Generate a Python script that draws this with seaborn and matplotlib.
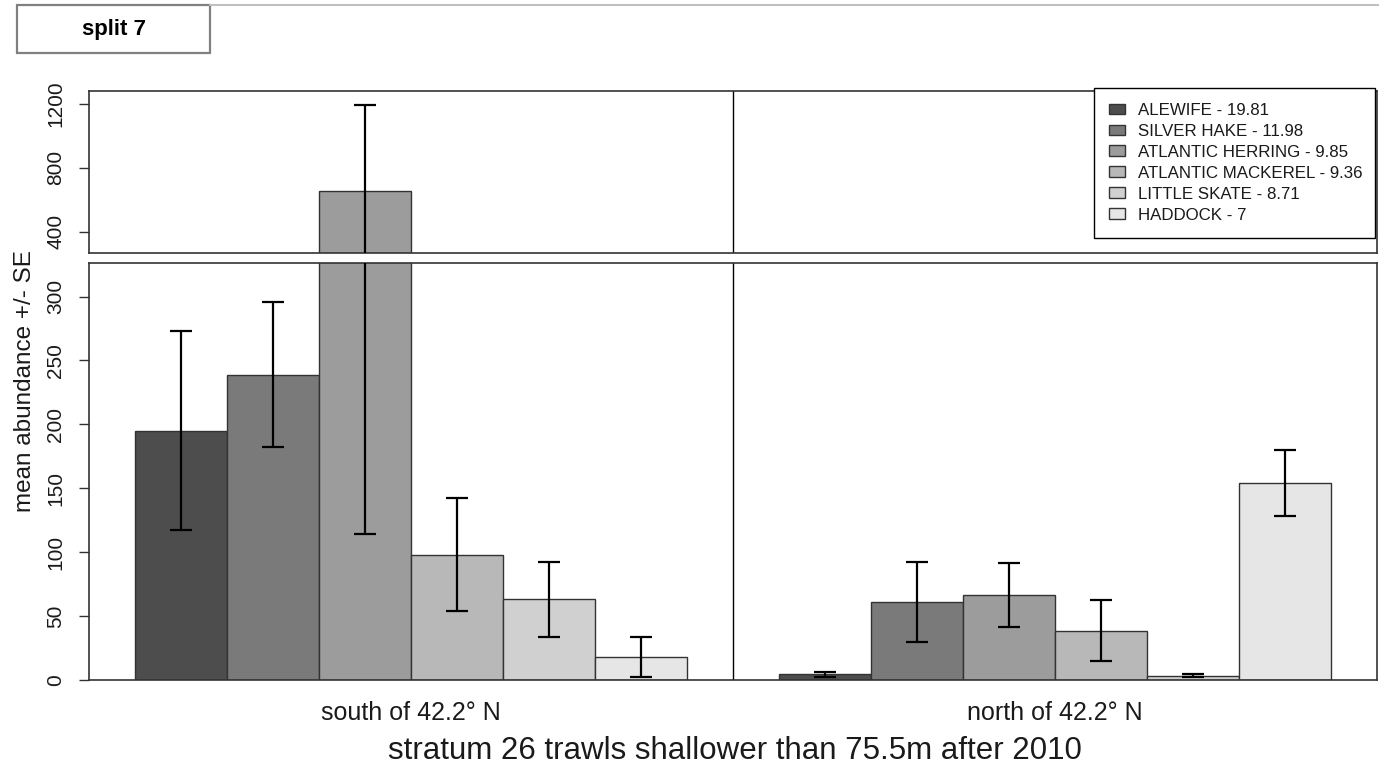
import matplotlib
matplotlib.use("Agg")
import matplotlib.pyplot as plt
from matplotlib.container import BarContainer
from matplotlib.lines import Line2D
from matplotlib.patches import Rectangle
import pandas as pd
import seaborn as sns

# values
regions = ["south of 42.2\u00b0 N", "north of 42.2\u00b0 N"]
species = ["ALEWIFE", "SILVER HAKE", "ATLANTIC HERRING", "ATLANTIC MACKEREL", "LITTLE SKATE", "HADDOCK"]
scores = [19.81, 11.98, 9.85, 9.36, 8.71, 7]
south_mean = [195, 239, 655, 98, 63, 18]
south_se = [78, 57, 541, 44, 29.5, 16]
north_mean = [4.5, 61, 66.5, 38.5, 3.4, 154]
north_se = [2, 31, 25, 24, 1.3, 26]
grays = ["#4d4d4d", "#7a7a7a", "#9c9c9c", "#b8b8b8", "#d0d0d0", "#e6e6e6"]

rows = []
for i, sp in enumerate(species):
    rows.append({"region": regions[0], "species": sp, "mean": south_mean[i], "se": south_se[i]})
    rows.append({"region": regions[1], "species": sp, "mean": north_mean[i], "se": north_se[i]})
df = pd.DataFrame(rows)
legend_labels = [f"{s} - {v:g}" for s, v in zip(species, scores)]

sns.set_style("ticks")
plt.rcParams["font.family"] = ["Liberation Sans", "DejaVu Sans"]

W, H = 1379, 775
fig = plt.figure(figsize=(W / 100, H / 100), dpi=100)
ax_top = fig.add_axes([89 / W, 1 - 252.7 / H, 1288 / W, 162 / H])
ax_bot = fig.add_axes([89 / W, 1 - 680 / H, 1288 / W, 416.7 / H])

bot_max = 326


def draw(ax, only_big=False):
    sns.barplot(data=df, x="region", y="mean", hue="species", order=regions,
                hue_order=species, palette=grays, width=6 / 7, errorbar=None,
                edgecolor="#333333", linewidth=1, saturation=1, legend=False, ax=ax)
    bars = [c for c in ax.containers if isinstance(c, BarContainer)]
    xs, ys, es = [], [], []
    for i, cont in enumerate(bars):
        for bar in cont:
            xc = bar.get_x() + bar.get_width() / 2
            j = 0 if xc < 0.5 else 1
            m = south_mean[i] if j == 0 else north_mean[i]
            e = south_se[i] if j == 0 else north_se[i]
            if only_big and m < bot_max:
                continue
            xs.append(xc)
            ys.append(m)
            es.append(e)
    ax.errorbar(xs, ys, yerr=es, fmt="none", ecolor="black", elinewidth=1.6,
                capsize=8, capthick=1.6, zorder=5)
    ax.axvline(0.5, color="black", lw=1)
    ax.set_xlim(-0.5, 1.5)
    for sp in ax.spines.values():
        sp.set_color("#333333")
        sp.set_linewidth(1.2)
    ax.set_xlabel("")
    ax.set_ylabel("")
    return bars


top_bars = draw(ax_top, only_big=True)
draw(ax_bot)

ax_top.set_ylim(268, 1283)
ax_top.set_yticks([400, 800, 1200])
ax_top.set_xticks([])
ax_bot.set_ylim(0, bot_max)
ax_bot.set_yticks(range(0, 301, 50))

for ax in (ax_top, ax_bot):
    ax.tick_params(axis="y", direction="out", length=7.5, width=1, color="#333333",
                   labelsize=15, labelcolor="#1a1a1a", pad=9.5)
    plt.setp(ax.get_yticklabels(), rotation=90, va="center")
ax_bot.tick_params(axis="x", length=0, labelsize=18, labelcolor="#1a1a1a", pad=15)

handles = [c.patches[0] for c in top_bars]
leg = ax_top.legend(handles, legend_labels, loc="upper left", mode="expand",
                    bbox_to_anchor=(0.7803, 0, 0.2182, 1.0185), borderaxespad=0,
                    frameon=True, fancybox=False, fontsize=12.2, handlelength=0.9,
                    handleheight=0.6, handletextpad=0.8, labelspacing=0.35,
                    borderpad=0.9)
leg.get_frame().set_edgecolor("black")
leg.get_frame().set_linewidth(1)
leg.get_frame().set_alpha(1)
for t in leg.get_texts():
    t.set_color("#1a1a1a")

fig.text(25 / W, 1 - 381 / H, "mean abundance +/- SE", rotation=90, ha="center",
         va="center", fontsize=17.5, color="#1a1a1a")
fig.text(735 / W, 1 - 751 / H, "stratum 26 trawls shallower than 75.5m after 2010",
         ha="center", va="center", fontsize=22.5, color="#1a1a1a")

# slide decoration at the top
fig.add_artist(Line2D([210 / W, 1], [1 - 5 / H, 1 - 5 / H], transform=fig.transFigure,
                      color="#c0c0c0", lw=1.5))
fig.add_artist(Rectangle((17 / W, 1 - 53.3 / H), 193 / W, 48.3 / H,
                         transform=fig.transFigure, facecolor="white",
                         edgecolor="#808080", lw=1.6))
fig.text(113.5 / W, 1 - 29 / H, "split 7", ha="center", va="center",
         fontsize=16, fontweight="bold", color="black")

fig.savefig("out.png", dpi=100)
